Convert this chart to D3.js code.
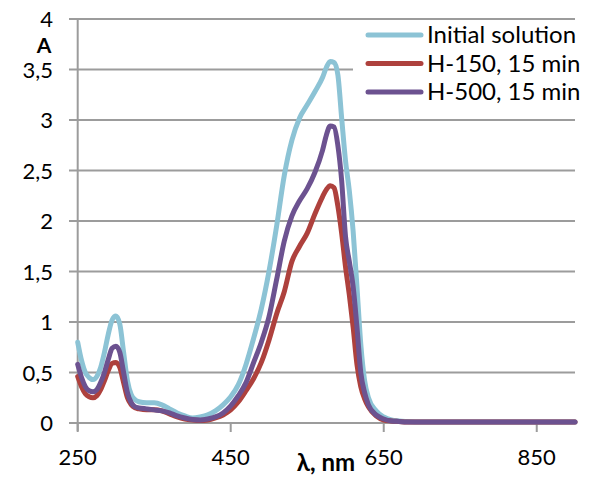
<!DOCTYPE html>
<html><head><meta charset="utf-8">
<script src="https://cdn.jsdelivr.net/npm/d3@7"></script>
<style>body{margin:0;background:#fff}svg{display:block}</style>
</head><body>
<svg id="c" width="590" height="477"></svg>
<script>
const wavelengths = [250,255,260,265,270,275,280,285,290,295,300,305,310,315,320,325,330,340,350,360,370,380,390,400,410,420,430,440,450,460,470,480,490,500,510,520,530,540,550,560,570,575,580,585,590,595,600,605,610,615,620,625,630,640,650,660,670,680,700,750,800,850,900];
const initialSolution = [0.80,0.62,0.50,0.45,0.43,0.46,0.55,0.70,0.88,1.02,1.06,0.98,0.70,0.42,0.28,0.23,0.21,0.20,0.20,0.18,0.14,0.10,0.07,0.05,0.06,0.08,0.12,0.18,0.26,0.38,0.58,0.84,1.13,1.50,1.95,2.45,2.80,3.02,3.15,3.28,3.42,3.52,3.58,3.57,3.45,3.02,2.60,2.30,1.90,1.35,0.78,0.42,0.25,0.12,0.06,0.03,0.02,0.015,0.01,0.01,0.01,0.01,0.01];
const h150 = [0.46,0.36,0.29,0.26,0.25,0.27,0.33,0.42,0.52,0.59,0.60,0.55,0.40,0.25,0.18,0.15,0.14,0.13,0.13,0.12,0.09,0.06,0.04,0.03,0.025,0.03,0.05,0.08,0.13,0.21,0.32,0.44,0.60,0.82,1.08,1.30,1.60,1.75,1.88,2.07,2.24,2.31,2.35,2.33,2.15,1.88,1.55,1.27,0.95,0.58,0.36,0.24,0.16,0.07,0.03,0.02,0.015,0.01,0.01,0.01,0.01,0.01,0.01];
const h500 = [0.58,0.45,0.36,0.32,0.31,0.33,0.40,0.50,0.63,0.74,0.76,0.70,0.50,0.30,0.20,0.16,0.15,0.14,0.13,0.12,0.10,0.07,0.05,0.035,0.03,0.04,0.06,0.10,0.17,0.27,0.40,0.60,0.80,1.05,1.42,1.80,2.05,2.20,2.32,2.48,2.70,2.85,2.94,2.93,2.75,2.40,1.85,1.60,1.35,0.95,0.50,0.30,0.18,0.08,0.04,0.02,0.015,0.01,0.01,0.01,0.01,0.01,0.01];
const seriesNames = ["Initial solution","H-150, 15 min","H-500, 15 min"];
const seriesColors = ["#8cc3d5","#ae413d","#6c5290"];
const xTicks = [250,450,650,850];
const yTicks = [0,0.5,1,1.5,2,2.5,3,3.5,4];

const svg = d3.select("#c");
const x = d3.scaleLinear().domain([250,900]).range([77.7,575]);
const y = d3.scaleLinear().domain([0,4]).range([423,19]);
const font = "Lato, 'Open Sans', sans-serif";
const grid = "#9c9c9c";

// gridlines + y ticks
svg.append("g").selectAll("line").data(yTicks).join("line")
  .attr("x1",69).attr("x2",575)
  .attr("y1",d=>y(d)).attr("y2",d=>y(d))
  .attr("stroke",grid).attr("stroke-width",2);
// y axis line
svg.append("line").attr("x1",x(250)).attr("x2",x(250)).attr("y1",y(4)).attr("y2",431)
  .attr("stroke",grid).attr("stroke-width",2);
// x ticks
svg.append("g").selectAll("line").data(xTicks).join("line")
  .attr("x1",d=>x(d)).attr("x2",d=>x(d)).attr("y1",y(0)).attr("y2",432)
  .attr("stroke",grid).attr("stroke-width",2);

// tick labels
svg.append("g").selectAll("text").data(yTicks).join("text")
  .attr("x",53).attr("y",d=>y(d)+8)
  .attr("text-anchor","end").attr("font-family",font).attr("font-size",22).attr("fill","#000")
  .text(d=>String(d).replace(".",","));
svg.append("g").selectAll("text").data(xTicks).join("text")
  .attr("x",d=>x(d)).attr("y",465)
  .attr("text-anchor","middle").attr("font-family",font).attr("font-size",22).attr("fill","#000")
  .text(d=>d);

// axis titles
svg.append("text").attr("x",44).attr("y",53).attr("text-anchor","middle")
  .attr("font-family",font).attr("font-weight","bold").attr("font-size",21).text("A");
svg.append("text").attr("x",326).attr("y",471).attr("text-anchor","middle")
  .attr("font-family",font).attr("font-weight","bold").attr("font-size",24).text("λ, nm");

// legend background
svg.append("rect").attr("x",353).attr("y",22).attr("width",224).attr("height",94).attr("fill","#fff");

// lines
const line = d3.line().x((d,i)=>x(wavelengths[i])).y(d=>y(d)).curve(d3.curveMonotoneX);
[initialSolution,h150,h500].forEach((s,k)=>{
  svg.append("path").attr("d",line(s)).attr("fill","none")
    .attr("stroke",seriesColors[k]).attr("stroke-width",5)
    .attr("stroke-linejoin","round").attr("stroke-linecap","round");
});

// legend
const lg = svg.append("g");
seriesNames.forEach((n,k)=>{
  const cy = 35 + k*28.5;
  lg.append("line").attr("x1",368).attr("x2",421).attr("y1",cy).attr("y2",cy)
    .attr("stroke",seriesColors[k]).attr("stroke-width",5).attr("stroke-linecap","round");
  lg.append("text").attr("x",427).attr("y",cy+8).attr("font-family",font).attr("font-size",24)
    .attr("fill","#000").text(n);
});
</script>
</body></html>
